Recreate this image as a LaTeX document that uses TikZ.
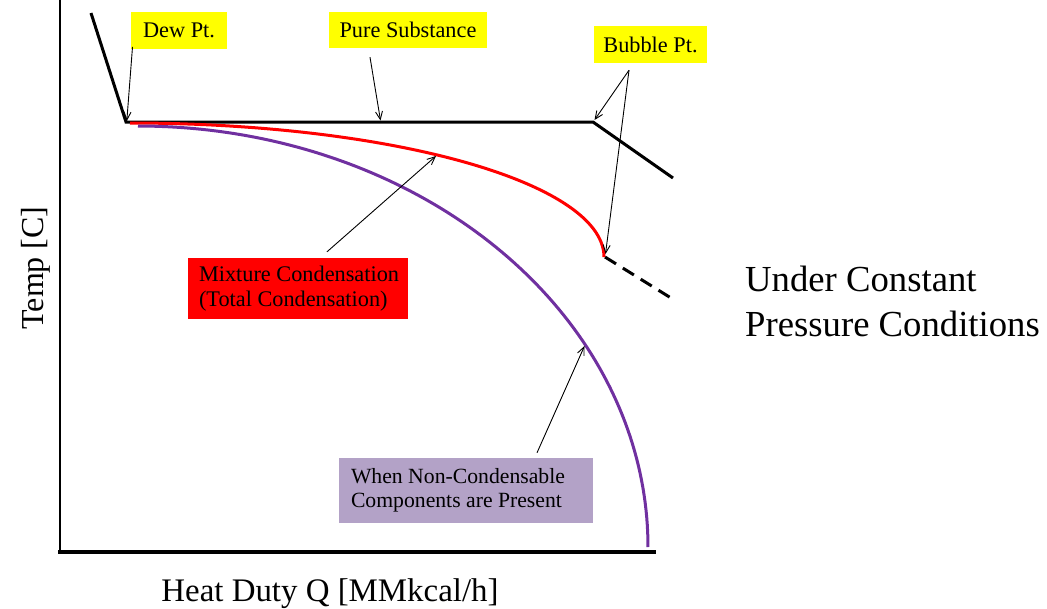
\documentclass[tikz,border=0pt]{standalone}
\usepackage{fontspec}
\setmainfont{Liberation Serif}
\usetikzlibrary{arrows.meta}
\definecolor{ylw}{HTML}{FFFF00}
\definecolor{lav}{HTML}{B3A2C7}
\definecolor{pur}{HTML}{7030A0}
\definecolor{rd}{HTML}{FF0000}
\begin{document}
\begin{tikzpicture}[x=1pt,y=-1pt,
  lbl/.style={inner sep=0pt, font=\fontsize{22.3}{25}\selectfont},
  twoline/.style={lbl, align=left, inner xsep=11pt},
  ptr/.style={line width=0.9pt, -{Straight Barb[length=8pt,width=7pt]}},
  curve/.style={line width=3pt}]
\useasboundingbox (0,0) rectangle (1047,608);
% axes
\draw[line width=1.7pt] (60,0) -- (60,553);
\draw[line width=3.5pt] (58.3,552) -- (656,552);
% pure substance
\draw[curve, line join=miter] (91,13) -- (126,122) -- (593,122) -- (673,178);
\draw[curve, dash pattern=on 13pt off 8pt] (605,257) -- (671,298);
% mixture
\draw[curve, rd] plot[domain=0:90, samples=90] ({130+474*sin(\x)},{257-134*cos(\x)});
% non-condensable
\draw[curve, pur] plot[domain=0:90, samples=90] ({138+510*sin(\x)},{547-421*cos(\x)});
% labels
\node[lbl, fill=ylw, minimum width=96pt, minimum height=37pt] (dew) at (179,30.5) {Dew Pt.};
\node[lbl, fill=ylw, minimum width=158pt, minimum height=36pt] (pure) at (408,30) {Pure Substance};
\node[lbl, fill=ylw, minimum width=113pt, minimum height=37pt] (bub) at (650.5,44.5) {Bubble Pt.};
\node[lbl, fill=rd, minimum width=220pt, minimum height=61pt] (mix) at (298,288.5) {};
\node[lbl, anchor=west, align=left] (mixtxt) at ([xshift=11pt]mix.west) {Mixture Condensation\\(Total Condensation)};
\node[lbl, fill=lav, minimum width=254pt, minimum height=65pt] (nc) at (466,490.5) {};
\node[lbl, anchor=west, align=left, font=\fontsize{21.7}{24}\selectfont] (nctxt) at ([xshift=12pt]nc.west) {When Non-Condensable\\Components are Present};
% target points
\coordinate (dewT) at (126.8,121);
\coordinate (pureT) at (380.5,120.5);
\coordinate (bubT1) at (594.5,120);
\coordinate (bubT2) at (605.5,254);
\coordinate (mixT) at (436,156);
\coordinate (ncT) at (584.5,346);
% pointers
\draw[ptr] ([shift={(1.7,-2.3)}]dew.south west) -- (dewT);
\draw[ptr] ([shift={(-38,9)}]pure.south) -- (pureT);
\draw[ptr] ([shift={(-21.5,7)}]bub.south) -- (bubT1);
\draw[ptr] ([shift={(-21.5,7)}]bub.south) -- (bubT2);
\draw[ptr] ([shift={(29,-6)}]mix.north) -- (mixT);
\draw[ptr] ([shift={(71,-5)}]nc.north) -- (ncT);
% texts
\node[inner sep=0pt, anchor=north west, align=left, font=\fontsize{36.7}{45}\selectfont] (cond) at (745,266) {Under Constant\\Pressure Conditions};
\node[inner sep=0pt, anchor=base, rotate=90, font=\fontsize{32}{38}\selectfont] (ylab) at (43,268) {Temp [C]};
\node[inner sep=0pt, anchor=base, font=\fontsize{32.9}{38}\selectfont] (xlab) at (330,601) {Heat Duty Q [MMkcal/h]};
\end{tikzpicture}
\end{document}
